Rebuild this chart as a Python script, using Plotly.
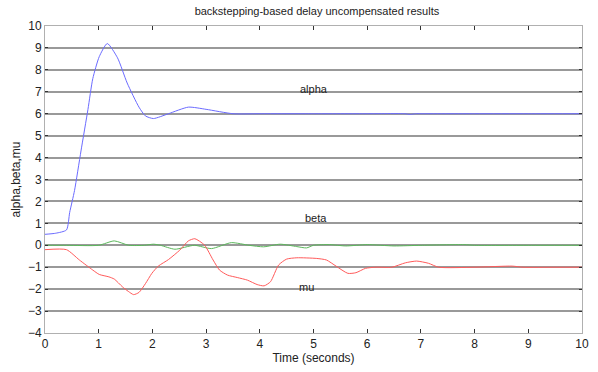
import plotly.graph_objects as go

# alpha (blue)
alpha_t = [0, 0.2, 0.4, 0.46, 0.55, 0.67, 0.8, 0.89, 1.01, 1.16, 1.35, 1.53, 1.75, 1.87, 2.02, 2.3, 2.67, 3.0, 3.5, 4, 5, 6, 6.7, 6.8, 6.9, 7, 8, 9, 10]
alpha_v = [0.5, 0.55, 0.7, 1.5, 2.5, 4.3, 6.2, 7.6, 8.6, 9.2, 8.55, 7.4, 6.3, 5.9, 5.78, 6.0, 6.3, 6.2, 6.0, 6, 6, 6, 6, 5.97, 6, 6, 6, 6, 6]

# beta (green)
beta_t = [0, 0.4, 1.0, 1.29, 1.56, 1.85, 2.02, 2.15, 2.42, 2.78, 3.1, 3.47, 3.8, 4.07, 4.38, 4.69, 4.87, 5.0, 5.3, 5.6, 6.0, 6.5, 7, 7.8, 8, 9, 10]
beta_v = [0, 0, 0, 0.2, 0, 0, 0.05, 0, -0.18, 0, -0.15, 0.12, 0, -0.07, 0.05, -0.06, -0.12, 0, 0.03, -0.03, 0.03, -0.03, 0, 0.03, 0, 0, 0]

# mu (red)
mu_t = [0, 0.4, 0.64, 0.89, 1.01, 1.19, 1.29, 1.44, 1.55, 1.65, 1.75, 1.87, 1.99, 2.11, 2.3, 2.51, 2.67, 2.79, 2.97, 3.13, 3.25, 3.4, 3.58, 3.77, 3.95, 4.08, 4.2, 4.35, 4.5, 4.69, 5.06, 5.24, 5.42, 5.64, 5.79, 5.97, 6.16, 6.46, 6.71, 6.92, 7.14, 7.33, 8, 8.7, 8.9, 9.5, 10]
mu_v = [-0.2, -0.2, -0.67, -1.13, -1.33, -1.44, -1.54, -1.89, -2.1, -2.25, -2.15, -1.75, -1.28, -0.95, -0.65, -0.22, 0.2, 0.3, 0.01, -0.67, -1.13, -1.36, -1.47, -1.59, -1.79, -1.85, -1.66, -0.9, -0.63, -0.57, -0.6, -0.67, -0.95, -1.28, -1.25, -1.05, -1.0, -1.0, -0.8, -0.72, -0.82, -1.0, -1.0, -0.95, -1.0, -1.0, -1.0]

x_ticks = list(range(0, 11))
y_ticks = list(range(-4, 11))

labels = [("alpha", 5.0, 7.15), ("beta", 5.05, 1.25), ("mu", 4.87, -1.9)]

FONT = "Liberation Sans, Arial, sans-serif"

fig = go.Figure()
fig.add_trace(go.Scatter(x=alpha_t, y=alpha_v, mode="lines", line=dict(color="#6b6bff", width=1, shape="spline", smoothing=0.6)))
fig.add_trace(go.Scatter(x=beta_t, y=beta_v, mode="lines", line=dict(color="#5cb85c", width=1, shape="spline", smoothing=0.6)))
fig.add_trace(go.Scatter(x=mu_t, y=mu_v, mode="lines", line=dict(color="#ff5a5a", width=1, shape="spline", smoothing=0.6)))

for txt, xx, yy in labels:
    fig.add_annotation(x=xx, y=yy, text=txt, showarrow=False, font=dict(family=FONT, size=11, color="#222"))

fig.update_layout(
    width=598, height=372,
    margin=dict(l=45, r=9, t=26, b=39),
    paper_bgcolor="white", plot_bgcolor="white",
    showlegend=False,
    font=dict(family=FONT, color="#222"),
    title=dict(text="backstepping-based delay uncompensated results", x=0.53, xanchor="center",
               y=0.97, yanchor="middle", font=dict(family=FONT, size=11, color="#222")),
)
fig.update_xaxes(range=[0, 10], tickvals=x_ticks, showgrid=False, zeroline=False,
                 showline=True, linecolor="#b0b0b0", linewidth=1, mirror="ticks",
                 ticks="inside", ticklen=4, tickcolor="#333", tickwidth=1,
                 tickfont=dict(family=FONT, size=12, color="#222"),
                 title=dict(text="Time (seconds)", font=dict(family=FONT, size=12, color="#222"), standoff=2))
fig.update_yaxes(range=[-4, 10], tickvals=y_ticks, showgrid=True, gridcolor="#999999", gridwidth=1.5,
                 zeroline=True, zerolinecolor="#999999", zerolinewidth=1.5,
                 showline=True, linecolor="#b0b0b0", linewidth=1, mirror="ticks",
                 ticks="inside", ticklen=3, tickcolor="#333", tickwidth=1,
                 tickfont=dict(family=FONT, size=12, color="#222"),
                 title=dict(text="alpha,beta,mu", font=dict(family=FONT, size=12, color="#222"), standoff=4))

fig.write_html("out.html")
